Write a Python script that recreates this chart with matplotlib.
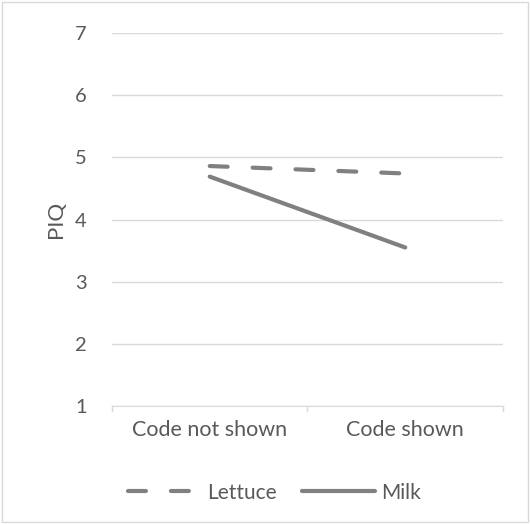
import matplotlib.pyplot as plt
from matplotlib.patches import Rectangle

# Data
conditions = ['Code not shown', 'Code shown']
lettuce = [4.86, 4.74]
milk = [4.69, 3.55]
y_ticks = [1, 2, 3, 4, 5, 6, 7]

line_color = '#808080'
text_color = '#595959'
grid_color = '#d9d9d9'

plt.rcParams['font.family'] = ['Lato', 'DejaVu Sans']

fig = plt.figure(figsize=(5.3, 5.24), dpi=100)
ax = fig.add_axes([0.2113, 0.2252, 0.7377, 0.7118])

x = range(len(conditions))
ax.plot(x, lettuce, color=line_color, lw=3, dashes=(4.3, 6.0),
        dash_capstyle='round', solid_capstyle='round', label='Lettuce')
ax.plot(x, milk, color=line_color, lw=3, solid_capstyle='round', label='Milk')

ax.set_xlim(-0.5, 1.5)
ax.set_ylim(1, 7)
ax.set_yticks(y_ticks)
ax.set_xticks(x)
ax.set_xticklabels(conditions)
ax.tick_params(axis='y', length=0, pad=18, labelsize=14.5, labelcolor=text_color)
ax.tick_params(axis='x', length=0, pad=10, labelsize=15.5, labelcolor=text_color)

# category boundary ticks on the x axis
for b in [-0.5, 0.5, 1.5]:
    ax.plot([b, b], [1, 0.92], color=grid_color, lw=1, clip_on=False)

ax.grid(axis='y', color=grid_color, lw=1)
ax.set_axisbelow(True)
for side in ['left', 'right', 'top']:
    ax.spines[side].set_visible(False)
ax.spines['bottom'].set_color(grid_color)

ax.set_ylabel('PIQ', fontsize=16, color=text_color, labelpad=7)

ax.legend(loc='upper center', bbox_to_anchor=(0.415, -0.155), ncol=2, frameon=False,
          fontsize=15, labelcolor=text_color, handlelength=3.5, handletextpad=0.3,
          columnspacing=1.2)

# outer border of the chart area
fig.patches.append(Rectangle((0.003, 0.003), 0.994, 0.994, transform=fig.transFigure,
                             fill=False, edgecolor='#d9d9d9', lw=1))

fig.savefig('out.png', dpi=100)
